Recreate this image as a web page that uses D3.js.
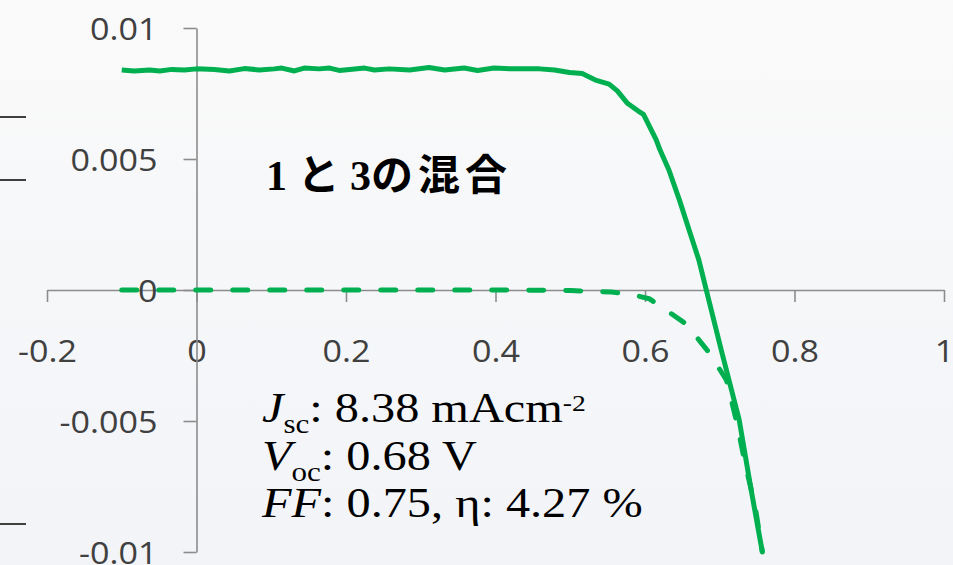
<!DOCTYPE html>
<html>
<head>
<meta charset="utf-8">
<script src="https://cdn.jsdelivr.net/npm/d3@7"></script>
<style>
  body { margin: 0; }
  svg { display: block; }
</style>
</head>
<body>
<svg id="canvas_chart"></svg>
<script>
// voltage (V) and current density (A cm-2)
let light_v = [-0.100, -0.083, -0.063, -0.049, -0.033, -0.016, 0.000, 0.024, 0.044, 0.064,
               0.084, 0.104, 0.114, 0.131, 0.144, 0.164, 0.178, 0.191, 0.205, 0.225,
               0.238, 0.258, 0.285, 0.311, 0.332, 0.358, 0.376, 0.398, 0.425, 0.459,
               0.479, 0.499, 0.516, 0.535, 0.552, 0.563, 0.576, 0.591, 0.598, 0.615,
               0.620, 0.632, 0.646, 0.659, 0.672, 0.682, 0.702, 0.726, 0.742, 0.757]
let light_j = [0.00840, 0.00836, 0.00840, 0.00836, 0.00842, 0.00840, 0.00844, 0.00842, 0.00836, 0.00845,
               0.00840, 0.00844, 0.00847, 0.00836, 0.00847, 0.00844, 0.00847, 0.00838, 0.00842, 0.00847,
               0.00840, 0.00844, 0.00840, 0.00849, 0.00840, 0.00847, 0.00838, 0.00847, 0.00844, 0.00844,
               0.00840, 0.00830, 0.00826, 0.00800, 0.00786, 0.00760, 0.00714, 0.00683, 0.00670, 0.00573,
               0.00535, 0.00458, 0.00344, 0.00229, 0.00115, 0.00000, -0.00229, -0.00496, -0.00763, -0.01000]

let dark_v = [-0.100, 0.000, 0.100, 0.200, 0.300, 0.400, 0.500, 0.555, 0.580, 0.606,
              0.632, 0.655, 0.686, 0.709, 0.722, 0.735, 0.747, 0.757]
let dark_j = [0, 0, 0, 0, 0, 0, -0.00002, -0.00008, -0.00015, -0.00034,
              -0.00084, -0.00130, -0.00240, -0.00344, -0.00496, -0.00676, -0.00820, -0.01000]

let x_ticks = [-0.2, 0, 0.2, 0.4, 0.6, 0.8, 1]
let y_ticks = [-0.01, -0.005, 0, 0.005, 0.01]
let x_tick_labels = ["-0.2", "0", "0.2", "0.4", "0.6", "0.8", "1"]
let y_tick_labels = ["-0.01", "-0.005", "0", "0.005", "0.01"]

let W = 953, H = 565
let green = "#00b050"
let axis_grey = "#8c8c8c"
let label_col = "#404040"

let canvas = d3.select("#canvas_chart")
                .attr("width", W)
                .attr("height", H)

let defs = canvas.append("defs")
let grad = defs.append("linearGradient")
                .attr("id", "bg")
                .attr("x1", 0).attr("y1", 0).attr("x2", 0).attr("y2", 1)
grad.append("stop").attr("offset", "0%").attr("stop-color", "#fafafa")
grad.append("stop").attr("offset", "100%").attr("stop-color", "#f2f4f8")

canvas.append("rect")
        .attr("width", W)
        .attr("height", H)
        .attr("fill", "url(#bg)")

let xScale = d3.scaleLinear().domain([-0.2, 1]).range([47, 944])
let yScale = d3.scaleLinear().domain([-0.01, 0.01]).range([552, 28])

// stray lines at the left edge of the slide
let stray = [117, 180, 524]
canvas.selectAll(".stray")
        .data(stray)
        .enter()
        .append("line")
        .attr("class", "stray")
        .attr("x1", 0).attr("x2", 26)
        .attr("y1", d => d).attr("y2", d => d)
        .attr("stroke", "#111")
        .attr("stroke-width", 1.6)

// x axis sits at y = 0, y axis at x = 0
let xAxis = d3.axisBottom(xScale)
                .tickValues(x_ticks)
                .tickSize(12)
                .tickSizeOuter(0)
                .tickFormat((d, i) => x_tick_labels[i])
let yAxis = d3.axisLeft(yScale)
                .tickValues(y_ticks)
                .tickSize(13)
                .tickSizeOuter(0)
                .tickFormat((d, i) => y_tick_labels[i])

let gx = canvas.append("g")
                .attr("transform", `translate(0,${yScale(0)})`)
                .call(xAxis)
let gy = canvas.append("g")
                .attr("transform", `translate(${xScale(0)},0)`)
                .call(yAxis)

canvas.selectAll(".domain, .tick line")
        .attr("stroke", axis_grey)
        .attr("stroke-width", 1.6)

// the slide text is a bit wider than the fonts we have
let sx = 1.1
gx.selectAll("text")
    .attr("y", 0)
    .attr("dy", 0)
    .attr("transform", `translate(0,72) scale(${sx},1)`)
gy.selectAll("text")
    .attr("x", -39 / sx)
    .attr("dy", "0.36em")
    .attr("transform", `scale(${sx},1)`)

canvas.selectAll(".tick text")
        .attr("fill", label_col)
        .style("font-family", "'Open Sans', sans-serif")
        .style("font-size", "31px")

// curves
let line = d3.line()
                .x(d => xScale(d[0]))
                .y(d => yScale(d[1]))

let light_pts = light_v.map((v, i) => [v, light_j[i]])
let dark_pts = dark_v.map((v, i) => [v, dark_j[i]])

canvas.append("path")
        .datum(dark_pts)
        .attr("d", line)
        .attr("fill", "none")
        .attr("stroke", green)
        .attr("stroke-width", 5)
        .attr("stroke-linecap", "round")
        .attr("stroke-dasharray", "15,22")

canvas.append("path")
        .datum(light_pts)
        .attr("d", line)
        .attr("fill", "none")
        .attr("stroke", green)
        .attr("stroke-width", 5)
        .attr("stroke-linejoin", "round")

// annotation texts
let title = canvas.append("text")
        .attr("x", 266)
        .attr("y", 190)
        .attr("fill", "#000")
        .style("font-family", "'Liberation Serif', 'Noto Sans CJK JP', serif")
        .style("font-weight", "bold")
        .style("font-size", "42px")
title.append("tspan").text("1 と 3")
title.append("tspan").style("letter-spacing", "5px").text("の混合")

let serif = "'Liberation Serif', 'Times New Roman', serif"
let stats = [
    {y: 422, main: "J", sub: "sc", rest: ": 8.38 mAcm", sup: "-2"},
    {y: 470, main: "V", sub: "oc", rest: ": 0.68 V", sup: ""},
    {y: 517, main: "FF", sub: "", rest: ": 0.75, η: 4.27 %", sup: ""}
]
let tx = 1.15

stats.forEach(s => {
    let t = canvas.append("text")
                    .attr("transform", `translate(262,${s.y}) scale(${tx},1)`)
                    .attr("fill", "#000")
                    .style("font-family", serif)
                    .style("font-size", "42px")
    t.append("tspan").style("font-style", "italic").text(s.main)
    if (s.sub) {
        t.append("tspan").style("font-size", "27px").attr("dy", 11).text(s.sub)
        t.append("tspan").attr("dy", -11).text(s.rest)
    } else {
        t.append("tspan").text(s.rest)
    }
    if (s.sup) {
        t.append("tspan").style("font-size", "24px").attr("dy", -11).text(s.sup)
    }
})
</script>
</body>
</html>
